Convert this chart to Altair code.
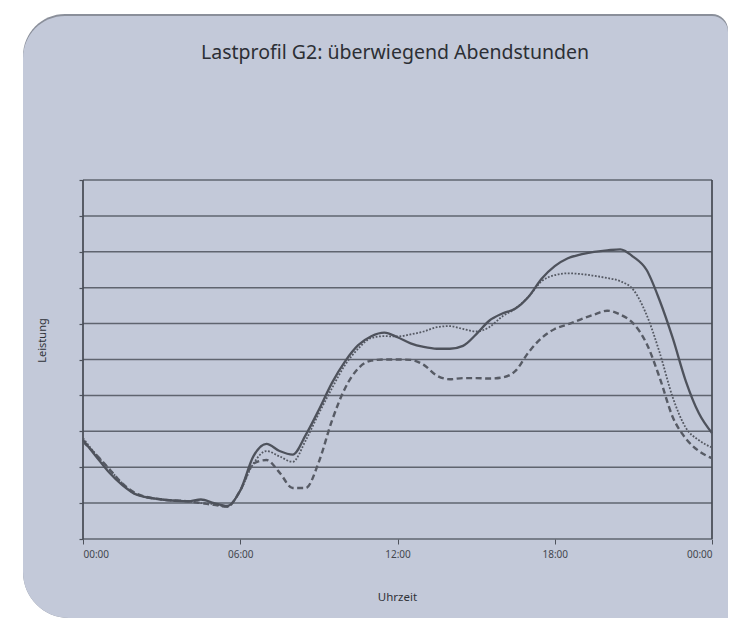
import altair as alt
import pandas as pd

title_text = "Lastprofil G2: überwiegend Abendstunden"
x_title = "Uhrzeit"
y_title = "Leistung"

hours = [0, 0.5, 1, 1.5, 2, 3, 4, 4.5, 5, 5.5, 6, 6.5, 7, 7.5, 8, 8.5, 9, 9.5,
         10, 10.5, 11, 11.5, 12, 12.5, 13, 13.5, 14, 14.5, 15, 15.5, 16, 16.5,
         17, 17.5, 18, 18.5, 19, 19.5, 20, 20.5, 21, 21.5, 22, 22.5, 23, 23.5, 24]

solid = [2.76, 2.3, 1.85, 1.5, 1.25, 1.1, 1.05, 1.1, 1.0, 0.92, 1.35, 2.3, 2.65,
         2.45, 2.35, 2.9, 3.6, 4.35, 4.95, 5.4, 5.65, 5.75, 5.62, 5.45, 5.35,
         5.3, 5.3, 5.38, 5.7, 6.08, 6.28, 6.42, 6.75, 7.25, 7.6, 7.82, 7.93,
         8.0, 8.04, 8.07, 7.86, 7.5, 6.65, 5.6, 4.4, 3.5, 2.95]

dotted = [2.81, 2.35, 1.95, 1.55, 1.25, 1.1, 1.05, 1.0, 0.97, 0.9, 1.35, 2.1,
          2.45, 2.3, 2.15, 2.75, 3.5, 4.2, 4.85, 5.3, 5.6, 5.65, 5.64, 5.7,
          5.78, 5.9, 5.93, 5.85, 5.78, 5.9, 6.2, 6.42, 6.75, 7.18, 7.35, 7.4,
          7.38, 7.33, 7.27, 7.18, 6.94, 6.25, 5.2, 3.95, 3.1, 2.75, 2.55]

dashed = [2.71, 2.35, 1.95, 1.55, 1.28, 1.1, 1.05, 1.0, 0.95, 0.9, 1.35, 2.1,
          2.2, 1.85, 1.42, 1.42, 2.15, 3.3, 4.2, 4.75, 4.97, 5.0, 5.0, 4.99,
          4.85, 4.55, 4.45, 4.48, 4.48, 4.47, 4.5, 4.68, 5.2, 5.6, 5.85, 5.98,
          6.12, 6.25, 6.36, 6.25, 6.0, 5.45, 4.5, 3.4, 2.8, 2.45, 2.25]

grid_values = list(range(0, 11))
x_ticks = [0, 6, 12, 18, 24]

W, H = 629, 359
BG = "#c3c9d9"
INK = "#4e525c"
GRID = "#5f646f"
FONT = "Noto Sans"

one = pd.DataFrame({"a": [0]})

shadow = alt.Chart(one).mark_rect(
    color="#8a8f9a", cornerRadiusTopLeft=42, cornerRadiusTopRight=16,
    cornerRadiusBottomLeft=46
).encode(x=alt.value(-60), x2=alt.value(645), y=alt.value(-166), y2=alt.value(438))

bg = alt.Chart(one).mark_rect(
    color=BG, cornerRadiusTopLeft=42, cornerRadiusTopRight=16,
    cornerRadiusBottomLeft=46
).encode(x=alt.value(-60), x2=alt.value(645), y=alt.value(-164), y2=alt.value(438))

xs = alt.Scale(domain=[0, 24], nice=False, zero=False)
ys = alt.Scale(domain=[0, 10], nice=False)

x_axis = alt.Axis(values=x_ticks, title=x_title, grid=False, domain=False,
                  tickSize=5, tickColor=INK, tickWidth=1,
                  labelExpr="datum.value == 24 ? '00:00' : (datum.value < 10 ? '0' : '') + datum.value + ':00'",
                  labelFont=FONT, labelFontSize=10, labelColor="#43474f",
                  labelPadding=5, titleFont=FONT, titleFontSize=11.5,
                  titleFontWeight="normal", titleColor="#2f3238",
                  titleX=314, titleY=58, titleBaseline="middle", zindex=1)
y_axis = alt.Axis(values=grid_values, title=y_title, grid=False, domain=False,
                  labels=False, tickSize=4, tickColor=INK, tickWidth=1.2,
                  titleFont=FONT, titleFontSize=11, titleFontWeight="normal",
                  titleColor="#2f3238", titleAngle=-90, titleX=-41, titleY=160,
                  titleBaseline="middle", zindex=1)

hgrid = alt.Chart(pd.DataFrame({"g": grid_values})).mark_rule(
    color=GRID, strokeWidth=1.5
).encode(y=alt.Y("g:Q", scale=ys, axis=y_axis))

vborder = alt.Chart(pd.DataFrame({"b": [0, 24]})).mark_rule(
    color="#454952", strokeWidth=1.7
).encode(x=alt.X("b:Q", scale=xs, axis=x_axis))


def series_layer(vals, **mark_kw):
    d = pd.DataFrame({"h": hours, "v": vals})
    return alt.Chart(d).mark_line(interpolate="monotone", **mark_kw).encode(
        x=alt.X("h:Q", scale=xs, axis=x_axis),
        y=alt.Y("v:Q", scale=ys, axis=y_axis),
    )


line_dashed = series_layer(dashed, color="#575b65", strokeWidth=2.4,
                           strokeDash=[6, 3.5])
line_dotted = series_layer(dotted, color="#555963", strokeWidth=1.8,
                           strokeDash=[1.8, 1.6])
line_solid = series_layer(solid, color=INK, strokeWidth=2.3)

title = alt.Chart(one).mark_text(
    text=title_text, font=FONT, fontSize=19.5, color="#2c2f35",
    align="center", baseline="alphabetic"
).encode(x=alt.value(312), y=alt.value(-121))

chart = alt.layer(shadow, bg, hgrid, vborder, line_dashed, line_dotted,
                  line_solid, title).properties(
    width=W, height=H,
    autosize=alt.AutoSizeParams(type="none"),
    padding={"left": 75, "top": 172, "right": 16, "bottom": 79},
    background="white",
).configure_view(stroke=None)

chart.save("out.html", embed_options={"renderer": "svg", "actions": False})
